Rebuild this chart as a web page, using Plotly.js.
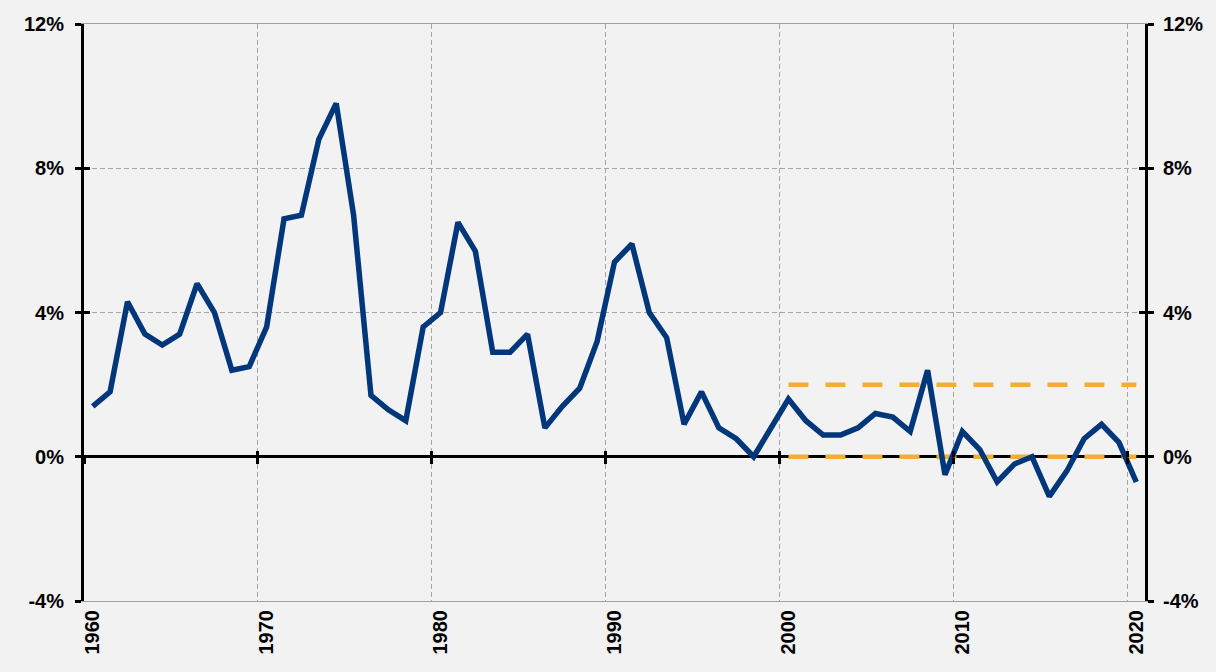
<!DOCTYPE html>
<html>
<head>
<meta charset="utf-8">
<script src="https://cdn.plot.ly/plotly-3.0.1.min.js"></script>
<style>
  html, body { margin: 0; padding: 0; background: #F2F2F2; }
  #chart { width: 1216px; height: 672px; }
</style>
</head>
<body>
<div id="chart"></div>
<script>
// ---- data ----
const years = [1960,1961,1962,1963,1964,1965,1966,1967,1968,1969,
  1970,1971,1972,1973,1974,1975,1976,1977,1978,1979,
  1980,1981,1982,1983,1984,1985,1986,1987,1988,1989,
  1990,1991,1992,1993,1994,1995,1996,1997,1998,1999,
  2000,2001,2002,2003,2004,2005,2006,2007,2008,2009,
  2010,2011,2012,2013,2014,2015,2016,2017,2018,2019,2020];
const inflation = [1.4,1.8,4.3,3.4,3.1,3.4,4.8,4.0,2.4,2.5,
  3.6,6.6,6.7,8.8,9.8,6.7,1.7,1.3,1.0,3.6,
  4.0,6.5,5.7,2.9,2.9,3.4,0.8,1.4,1.9,3.2,
  5.4,5.9,4.0,3.3,0.9,1.8,0.8,0.5,0.0,0.8,
  1.6,1.0,0.6,0.6,0.8,1.2,1.1,0.7,2.4,-0.5,
  0.7,0.2,-0.7,-0.2,0.0,-1.1,-0.4,0.5,0.9,0.4,-0.7];
const targetYears = [2000, 2020];
const targetUpper = [2, 2];
const targetLower = [0, 0];
const yTicks = [-4, 0, 4, 8, 12];
const yTickText = ['-4%', '0%', '4%', '8%', '12%'];
const xTicks = [1960, 1970, 1980, 1990, 2000, 2010, 2020];
const xTickText = ['1960', '1970', '1980', '1990', '2000', '2010', '2020'];

// annual values (and their labels) sit in the middle of each year's category
const mid = arr => arr.map(v => v + 0.5);

const blue = '#00377A';
const orange = '#EFB034';
const fam = 'Liberation Sans, Arial, sans-serif';
const tickFont = {family: fam, size: 20, color: '#000000', weight: 'bold'};

const traces = [
  {x: mid(targetYears), y: targetUpper, type: 'scatter', mode: 'lines',
   line: {color: orange, width: 4.5, dash: '20px,17px'}, hoverinfo: 'skip', showlegend: false},
  {x: mid(targetYears), y: targetLower, type: 'scatter', mode: 'lines',
   line: {color: orange, width: 4.5, dash: '20px,17px'}, hoverinfo: 'skip', showlegend: false},
  {x: mid(years), y: inflation, type: 'scatter', mode: 'lines',
   line: {color: blue, width: 5.5, shape: 'linear'}, showlegend: false},
  // helpers so that overlay axes are drawn
  {x: [], y: [], xaxis: 'x2', yaxis: 'y', showlegend: false},
  {x: [], y: [], xaxis: 'x3', yaxis: 'y', showlegend: false},
  {x: [], y: [], xaxis: 'x4', yaxis: 'y', showlegend: false},
  {x: [], y: [], xaxis: 'x', yaxis: 'y2', showlegend: false},
  {x: [], y: [], xaxis: 'x', yaxis: 'y3', showlegend: false},
  {x: [], y: [], xaxis: 'x', yaxis: 'y4', showlegend: false}
];

const xRange = [1960, 2021];
const yRange = [-4, 12];

const layout = {
  width: 1216, height: 672,
  paper_bgcolor: '#F2F2F2', plot_bgcolor: '#F2F2F2',
  margin: {l: 84, r: 71, t: 24, b: 71},
  font: {family: fam, size: 20, color: '#000'},
  showlegend: false,
  xaxis: {
    range: xRange, tickmode: 'array', tickvals: xTicks, showticklabels: false,
    showgrid: true, gridcolor: '#A6A6A6', gridwidth: 1, griddash: '5px,3px',
    showline: true, linecolor: '#A0A0A0', linewidth: 1, mirror: true,
    zeroline: false, ticks: ''
  },
  xaxis4: {
    overlaying: 'x', anchor: 'y', side: 'bottom', range: xRange,
    tickmode: 'array', tickvals: mid(xTicks), ticktext: xTickText,
    showgrid: false, zeroline: false, showline: false, ticks: '',
    tickangle: -90, ticklabelstandoff: 4, tickfont: tickFont
  },
  xaxis2: {
    overlaying: 'x', anchor: 'free', position: 0.25, range: xRange,
    tickmode: 'array', tickvals: xTicks, showticklabels: false,
    ticks: 'outside', ticklen: 6, tickwidth: 3, tickcolor: '#000',
    showgrid: false, zeroline: false, showline: false
  },
  xaxis3: {
    overlaying: 'x', anchor: 'free', position: 0.25, range: xRange,
    tickmode: 'array', tickvals: xTicks, showticklabels: false,
    ticks: 'inside', ticklen: 6, tickwidth: 3, tickcolor: '#000',
    showgrid: false, zeroline: false, showline: false
  },
  yaxis: {
    range: yRange, tickmode: 'array', tickvals: yTicks, ticktext: yTickText,
    showgrid: true, gridcolor: '#A6A6A6', gridwidth: 1, griddash: '5px,3px',
    zeroline: true, zerolinecolor: '#000', zerolinewidth: 3,
    showline: true, linecolor: '#000', linewidth: 3,
    ticks: 'outside', ticklen: 6, tickwidth: 3, tickcolor: '#000',
    ticklabelstandoff: 7,
    tickfont: tickFont
  },
  yaxis2: {
    overlaying: 'y', side: 'right', anchor: 'x', range: yRange,
    tickmode: 'array', tickvals: yTicks, ticktext: yTickText,
    showgrid: false, zeroline: false,
    showline: true, linecolor: '#000', linewidth: 3,
    ticks: 'outside', ticklen: 6, tickwidth: 3, tickcolor: '#000',
    ticklabelstandoff: 5,
    tickfont: tickFont
  },
  yaxis3: {
    overlaying: 'y', side: 'left', anchor: 'x', range: yRange,
    tickmode: 'array', tickvals: yTicks, showticklabels: false,
    showgrid: false, zeroline: false, showline: false,
    ticks: 'inside', ticklen: 6, tickwidth: 3, tickcolor: '#000'
  },
  yaxis4: {
    overlaying: 'y', side: 'right', anchor: 'x', range: yRange,
    tickmode: 'array', tickvals: yTicks, showticklabels: false,
    showgrid: false, zeroline: false, showline: false,
    ticks: 'inside', ticklen: 6, tickwidth: 3, tickcolor: '#000'
  }
};

Plotly.newPlot('chart', traces, layout, {displayModeBar: false, staticPlot: true});
</script>
</body>
</html>
